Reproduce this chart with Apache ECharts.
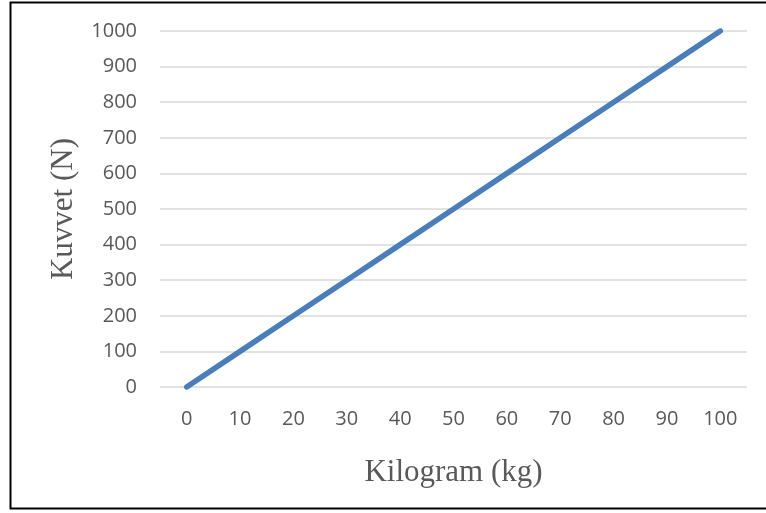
<!DOCTYPE html>
<html>
<head>
<meta charset="utf-8">
<script src="https://cdn.jsdelivr.net/npm/echarts@6/dist/echarts.min.js"></script>
<style>html,body{margin:0;padding:0;background:#fff}#c{width:766px;height:513px}</style>
</head>
<body>
<div id="c"></div>
<script>
const categories = ['0','10','20','30','40','50','60','70','80','90','100'];
const forceValues = [0,100,200,300,400,500,600,700,800,900,1000];
const xTitle = 'Kilogram (kg)';
const yTitle = 'Kuvvet (N)';

const chart = echarts.init(document.getElementById('c'), null, {renderer:'canvas'});
chart.setOption({
  animation: false,
  backgroundColor: '#ffffff',
  grid: {left: 160, right: 19, top: 31, bottom: 126},
  graphic: [{
    type: 'rect', silent: true,
    shape: {x: 10.5, y: 2.5, width: 770, height: 506},
    style: {fill: 'none', stroke: '#000', lineWidth: 2}
  }],
  xAxis: {
    type: 'category', data: categories, boundaryGap: true,
    axisLine: {show: false}, axisTick: {show: false},
    axisLabel: {color: '#595959', fontSize: 20, fontFamily: 'Open Sans', margin: 22},
    name: xTitle, nameLocation: 'middle', nameGap: 70,
    nameTextStyle: {fontFamily: 'Liberation Serif', fontSize: 31, color: '#595959'}
  },
  yAxis: {
    type: 'value', min: 0, max: 1000, interval: 100,
    axisLine: {show: false}, axisTick: {show: false},
    splitLine: {lineStyle: {color: '#d9d9d9', width: 1.5}},
    axisLabel: {color: '#595959', fontSize: 20, fontFamily: 'Open Sans', margin: 23,
      formatter: function (v) { return String(v); }},
    name: yTitle, nameLocation: 'middle', nameGap: 81,
    nameTextStyle: {fontFamily: 'Liberation Serif', fontSize: 31, color: '#595959'}
  },
  series: [{
    type: 'line', data: forceValues, showSymbol: false,
    lineStyle: {color: '#4a7ebb', width: 5.5, cap: 'round'},
    itemStyle: {color: '#4a7ebb'}
  }]
});
</script>
</body>
</html>
